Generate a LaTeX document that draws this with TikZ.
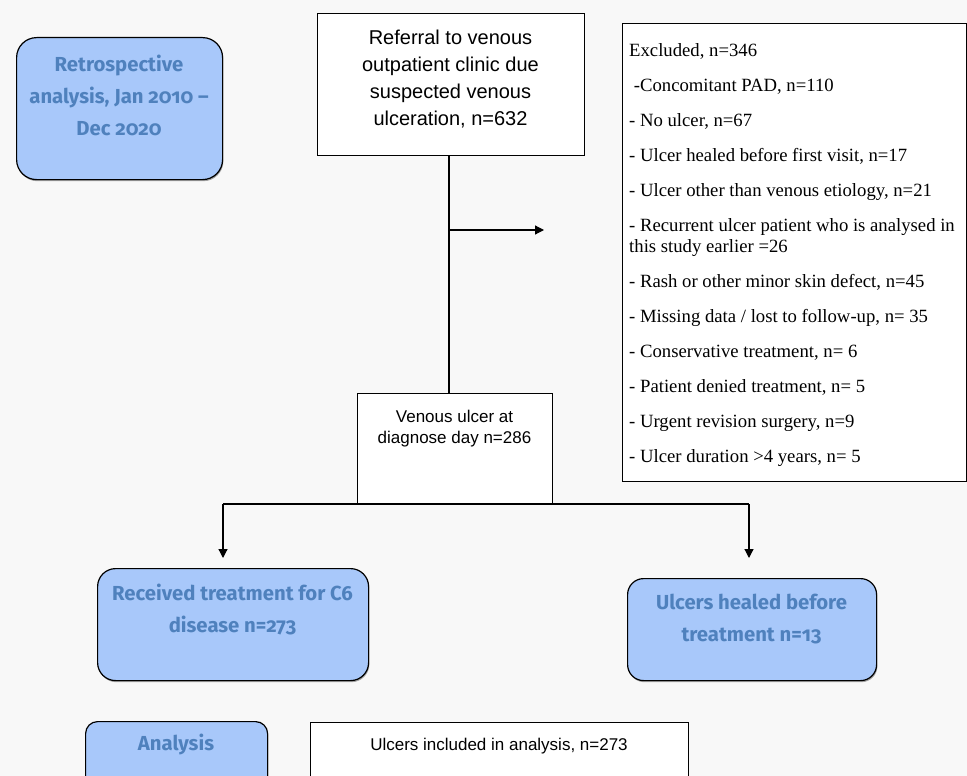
\documentclass[tikz,border=0pt]{standalone}
\usepackage{fontspec}
\setmainfont{Liberation Serif}
\setsansfont{Liberation Sans}
\newfontfamily\bluefont{Fira Sans}[Numbers=OldStyle]
\usetikzlibrary{arrows.meta,shadows}
\definecolor{bgcol}{HTML}{F8F8F8}
\definecolor{boxblue}{HTML}{A8C8FA}
\definecolor{textblue}{HTML}{4F81BD}
\begin{document}
\begin{tikzpicture}[x=1pt,y=-1pt,
  whitebox/.style={draw=black, fill=white, line width=1pt, inner sep=0pt, anchor=north west},
  bluebox/.style={draw=black, fill=boxblue, line width=1.2pt, inner sep=0pt, anchor=north west,
    drop shadow={shadow xshift=0.8pt, shadow yshift=-1.6pt, fill=black, opacity=0.35}},
  bluetext/.style={text=textblue, align=center, inner sep=0pt, font=\bluefont\bfseries\fontsize{20.3}{32}\selectfont},
  arialtext/.style={text=black, align=center, inner sep=0pt},
  conn/.style={draw=black, line width=1.2pt},
  arr/.style={conn, -{Triangle[length=9pt,width=9pt]}}]
\useasboundingbox (0,0) rectangle (967,776);
\fill[bgcol] (0,0) rectangle (967,776);
\clip (0,0) rectangle (967,776);

% blue boxes
\node[bluebox, rounded corners=20pt, minimum width=206, minimum height=142] (retro) at (16,37) {};
\node[bluetext] (retroT) at (119,95.5) {Retrospective\\analysis, Jan 2010 –\\Dec 2020};

\node[bluebox, rounded corners=18pt, minimum width=271, minimum height=112] (received) at (97,568) {};
\node[bluetext] (receivedT) at (232.5,610) {Received treatment for C6\\disease n=273};

\node[bluebox, rounded corners=16pt, minimum width=249, minimum height=102] (healed) at (627,578) {};
\node[bluetext] (healedT) at (751.5,619) {Ulcers healed before\\treatment n=13};

\node[bluebox, rounded corners=12pt, minimum width=182, minimum height=80] (analysis) at (85,721) {};
\node[bluetext] (analysisT) at (176,745) {Analysis};

% white boxes
\node[whitebox, minimum width=267, minimum height=142] (referral) at (317,13) {};
\node[arialtext, font=\sffamily\fontsize{20}{26.7}\selectfont] (referralT) at (450.5,79) {Referral to venous\\outpatient clinic due\\suspected venous\\ulceration, n=632};

\node[whitebox, minimum width=344, minimum height=458] (excluded) at (622,23) {};
\node[anchor=north west, align=left, inner sep=0pt, font=\rmfamily\fontsize{18.7}{21}\selectfont] (excludedT) at (629,43) {Excluded, n=346\\[14pt]
~-Concomitant PAD, n=110\\[14pt]
- No ulcer, n=67\\[14pt]
- Ulcer healed before first visit, n=17\\[14pt]
- Ulcer other than venous etiology, n=21\\[14pt]
- Recurrent ulcer patient who is analysed in\\
this study earlier =26\\[14pt]
- Rash or other minor skin defect, n=45\\[14pt]
- Missing data / lost to follow-up, n= 35\\[14pt]
- Conservative treatment, n= 6\\[14pt]
- Patient denied treatment, n= 5\\[14pt]
- Urgent revision surgery, n=9\\[14pt]
- Ulcer duration >4 years, n= 5};

\node[whitebox, minimum width=195, minimum height=111] (venous) at (357,393) {};
\node[arialtext, font=\sffamily\fontsize{17}{21.5}\selectfont] (venousT) at (454.5,428.5) {Venous ulcer at\\diagnose day n=286};

\node[whitebox, minimum width=378, minimum height=80] (included) at (310,722) {};
\node[arialtext, font=\sffamily\fontsize{17}{21.5}\selectfont] (includedT) at (499,746) {Ulcers included in analysis, n=273};

% connectors
\coordinate (exclTip) at (544,230);
\coordinate (brL) at (223,504);
\coordinate (brR) at (749,504);
\coordinate (tipL) at (223,558);
\coordinate (tipR) at (749,558);
\coordinate (stem) at (449,0);

\draw[conn] (stem |- referral.south) -- (stem |- venous.north);
\draw[arr] (stem |- exclTip) -- (exclTip);
\draw[conn] (brL) -- (brR);
\draw[arr] (brL) -- (tipL);
\draw[arr] (brR) -- (tipR);
\end{tikzpicture}
\end{document}
